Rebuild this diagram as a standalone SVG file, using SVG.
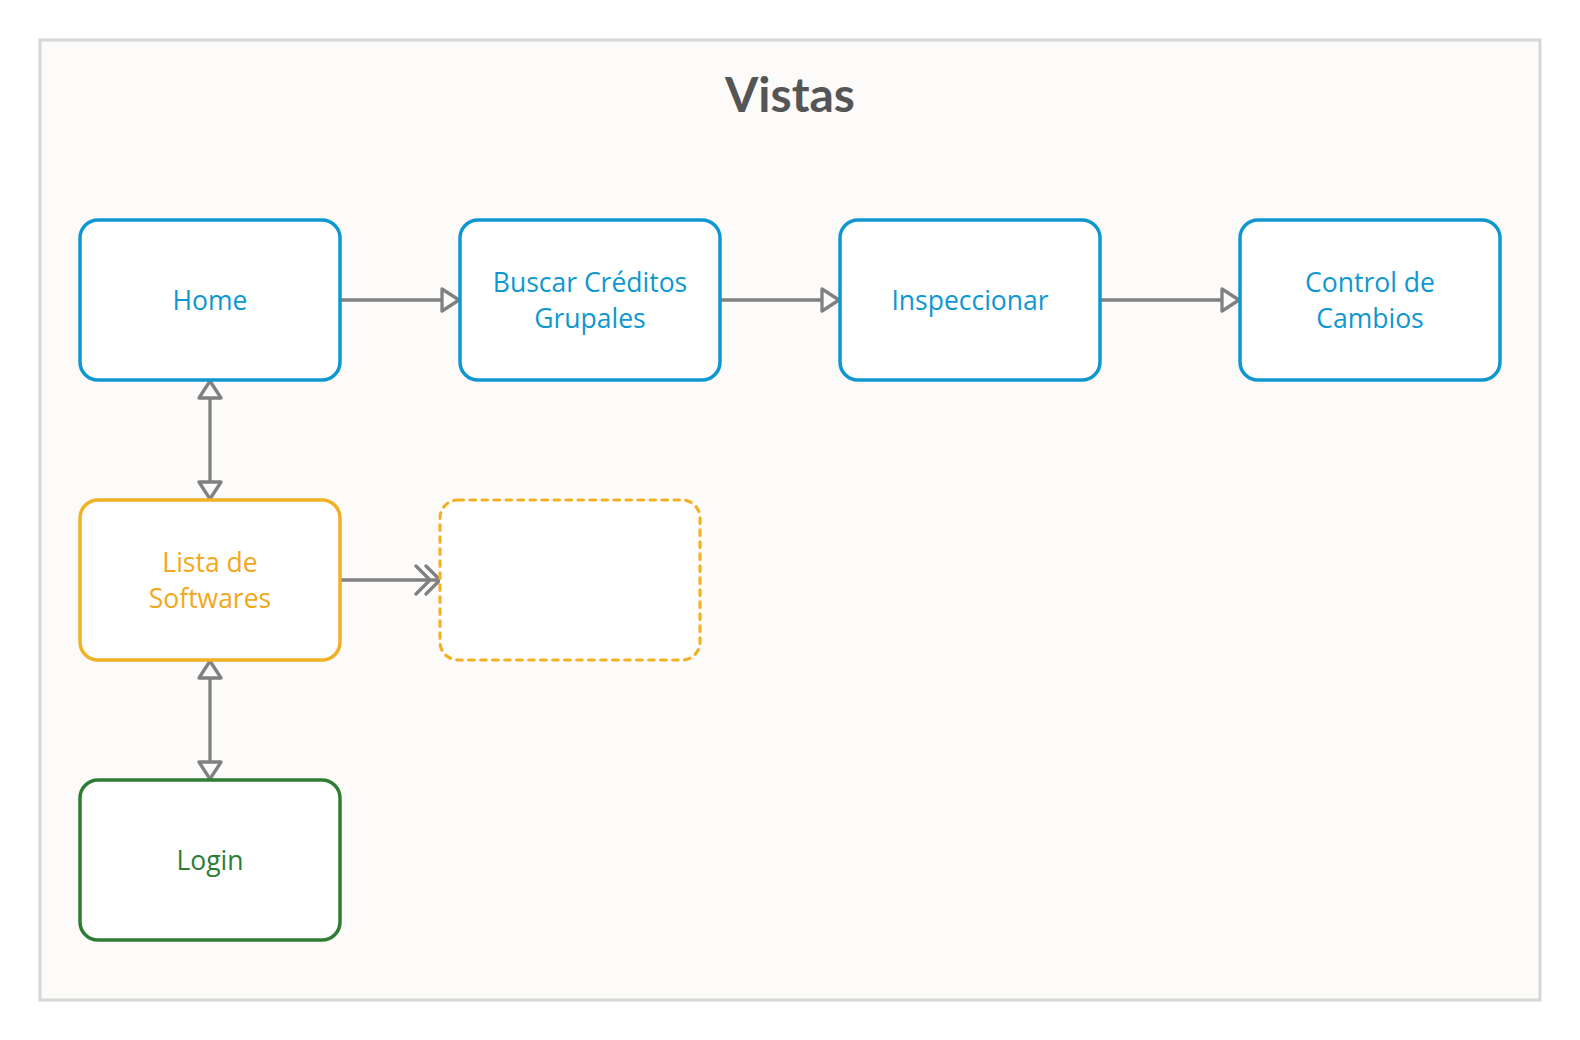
<svg xmlns="http://www.w3.org/2000/svg" width="1580" height="1040" viewBox="0 0 1580 1040">
  <style>
    .frame { fill: #fcfbfa; stroke: #d6d6d6; stroke-width: 3; }
    .title { font-family: Lato, "Liberation Sans", sans-serif; font-weight: bold; font-size: 48px; fill: #555555; text-anchor: middle; }
    .node { fill: #ffffff; stroke-width: 3.5; }
    .blue { stroke: #0e97d1; }
    .orange { stroke: #f2b124; }
    .green { stroke: #2f7d34; }
    .dashed { stroke: #f2b124; stroke-dasharray: 5.5 6.5; stroke-linecap: round; stroke-width: 3.2; }
    .label { font-family: "Open Sans", "Noto Sans", sans-serif; font-size: 26.5px; text-anchor: middle; }
    .tblue { fill: #0e97d1; }
    .torange { fill: #f2a81a; }
    .tgreen { fill: #2f7d34; }
    .conn { fill: none; stroke: #808080; stroke-width: 3.3; }
  </style>
  <defs>
    <marker id="tri" markerUnits="userSpaceOnUse" viewBox="0 0 22 26" refX="19" refY="13" markerWidth="22" markerHeight="26" orient="auto-start-reverse">
      <path d="M2,2 L19,13 L2,24 Z" fill="#fcfbfa" stroke="#808080" stroke-width="3.3" stroke-linejoin="round"/>
    </marker>
    <marker id="dchev" markerUnits="userSpaceOnUse" viewBox="0 0 30 32" refX="27" refY="16" markerWidth="30" markerHeight="32" orient="auto">
      <path d="M13,2 L27,16 L13,30 M3,2 L17,16 L3,30" fill="none" stroke="#808080" stroke-width="3.3" stroke-linejoin="round" stroke-linecap="round"/>
    </marker>
  </defs>

  <rect class="frame" x="40" y="40" width="1500" height="960"/>
  <text class="title" x="790" y="112">Vistas</text>

  <g id="connectors">
    <line class="conn" x1="340" y1="300" x2="459" y2="300" marker-end="url(#tri)"/>
    <line class="conn" x1="720" y1="300" x2="839" y2="300" marker-end="url(#tri)"/>
    <line class="conn" x1="1100" y1="300" x2="1239" y2="300" marker-end="url(#tri)"/>
    <line class="conn" x1="210" y1="381" x2="210" y2="499" marker-start="url(#tri)" marker-end="url(#tri)"/>
    <line class="conn" x1="210" y1="661" x2="210" y2="779" marker-start="url(#tri)" marker-end="url(#tri)"/>
    <line class="conn" x1="340" y1="580" x2="440" y2="580" marker-end="url(#dchev)"/>
  </g>

  <g id="home">
    <rect class="node blue" x="80" y="220" width="260" height="160" rx="18"/>
    <text class="label tblue" x="210" y="310">Home</text>
  </g>
  <g id="buscar">
    <rect class="node blue" x="460" y="220" width="260" height="160" rx="18"/>
    <text class="label tblue" x="590" y="292">Buscar Créditos</text>
    <text class="label tblue" x="590" y="328">Grupales</text>
  </g>
  <g id="inspeccionar">
    <rect class="node blue" x="840" y="220" width="260" height="160" rx="18"/>
    <text class="label tblue" x="970" y="310">Inspeccionar</text>
  </g>
  <g id="control">
    <rect class="node blue" x="1240" y="220" width="260" height="160" rx="18"/>
    <text class="label tblue" x="1370" y="292">Control de</text>
    <text class="label tblue" x="1370" y="328">Cambios</text>
  </g>
  <g id="lista">
    <rect class="node orange" x="80" y="500" width="260" height="160" rx="18"/>
    <text class="label torange" x="210" y="572">Lista de</text>
    <text class="label torange" x="210" y="608">Softwares</text>
  </g>
  <g id="placeholder">
    <rect class="node dashed" x="440" y="500" width="260" height="160" rx="18"/>
  </g>
  <g id="login">
    <rect class="node green" x="80" y="780" width="260" height="160" rx="18"/>
    <text class="label tgreen" x="210" y="870">Login</text>
  </g>
</svg>
